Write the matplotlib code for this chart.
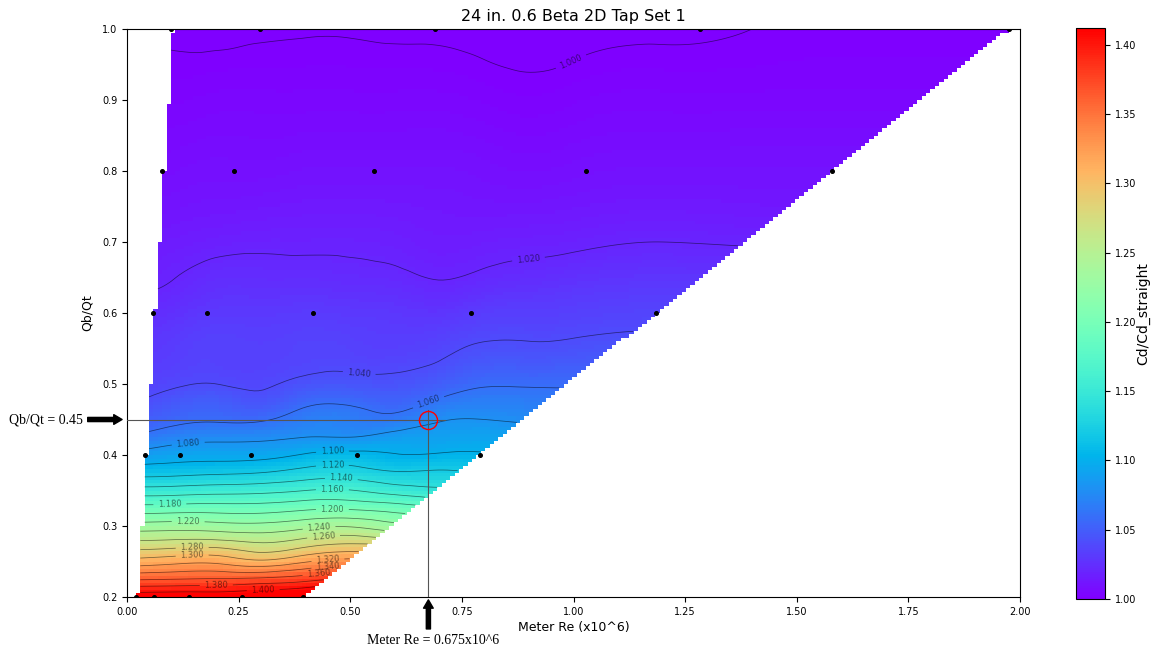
import numpy as np
import matplotlib
matplotlib.use("Agg")
import matplotlib.pyplot as plt
import matplotlib.tri as mtri
from matplotlib.ticker import FormatStrFormatter

# Measurement points: Qb/Qt levels and the meter Re (x10^6) tested at each level
qbqt_levels = [0.2, 0.4, 0.6, 0.8, 1.0]
re_points = [
    [0.020, 0.060, 0.138, 0.257, 0.395],
    [0.040, 0.119, 0.277, 0.514, 0.790],
    [0.059, 0.179, 0.416, 0.771, 1.185],
    [0.079, 0.240, 0.553, 1.028, 1.580],
    [0.099, 0.298, 0.690, 1.283, 1.975],
]

# Cd/Cd_straight surface table (rows: Qb/Qt, columns: meter Re)
re_cols = [0.0, 0.1, 0.2, 0.3, 0.4, 0.5, 0.6, 0.7, 0.8, 0.9, 1.0, 1.2, 1.4, 1.6, 1.8, 2.0]
qb_rows = [0.20, 0.225, 0.25, 0.275, 0.30, 0.325, 0.35, 0.375, 0.40, 0.425,
           0.45, 0.475, 0.50, 0.55, 0.60, 0.65, 0.70, 0.80, 0.90, 1.00]
cd_ratio = [
    [1.415, 1.417, 1.415, 1.420, 1.430, 1.440, 1.440, 1.440, 1.440, 1.440, 1.440, 1.440, 1.440, 1.440, 1.440, 1.440],
    [1.358, 1.360, 1.362, 1.365, 1.373, 1.385, 1.390, 1.390, 1.390, 1.390, 1.390, 1.390, 1.390, 1.390, 1.390, 1.390],
    [1.307, 1.313, 1.315, 1.304, 1.318, 1.328, 1.335, 1.335, 1.335, 1.335, 1.335, 1.335, 1.335, 1.335, 1.335, 1.335],
    [1.267, 1.269, 1.270, 1.262, 1.272, 1.280, 1.278, 1.276, 1.275, 1.275, 1.275, 1.275, 1.275, 1.275, 1.275, 1.275],
    [1.228, 1.230, 1.228, 1.226, 1.234, 1.238, 1.227, 1.225, 1.222, 1.222, 1.222, 1.222, 1.222, 1.222, 1.222, 1.222],
    [1.188, 1.189, 1.190, 1.190, 1.196, 1.197, 1.191, 1.185, 1.182, 1.182, 1.182, 1.182, 1.182, 1.182, 1.182, 1.182],
    [1.148, 1.149, 1.152, 1.154, 1.160, 1.161, 1.151, 1.145, 1.145, 1.145, 1.145, 1.145, 1.145, 1.145, 1.145, 1.145],
    [1.112, 1.114, 1.117, 1.120, 1.128, 1.130, 1.122, 1.123, 1.120, 1.118, 1.118, 1.118, 1.118, 1.118, 1.118, 1.118],
    [1.085, 1.091, 1.093, 1.094, 1.102, 1.106, 1.101, 1.102, 1.102, 1.100, 1.098, 1.098, 1.098, 1.098, 1.098, 1.098],
    [1.060, 1.071, 1.075, 1.076, 1.080, 1.080, 1.087, 1.090, 1.092, 1.090, 1.087, 1.087, 1.087, 1.087, 1.087, 1.087],
    [1.046, 1.055, 1.058, 1.058, 1.068, 1.068, 1.066, 1.078, 1.080, 1.077, 1.075, 1.075, 1.075, 1.075, 1.075, 1.075],
    [1.038, 1.046, 1.049, 1.045, 1.056, 1.057, 1.053, 1.063, 1.069, 1.068, 1.066, 1.065, 1.065, 1.065, 1.065, 1.065],
    [1.035, 1.038, 1.040, 1.038, 1.044, 1.045, 1.044, 1.050, 1.058, 1.058, 1.058, 1.058, 1.058, 1.058, 1.058, 1.058],
    [1.029, 1.032, 1.035, 1.034, 1.036, 1.035, 1.034, 1.037, 1.042, 1.042, 1.043, 1.045, 1.045, 1.045, 1.045, 1.045],
    [1.023, 1.026, 1.030, 1.030, 1.031, 1.030, 1.029, 1.028, 1.032, 1.033, 1.034, 1.036, 1.036, 1.036, 1.036, 1.036],
    [1.017, 1.0195, 1.024, 1.024, 1.024, 1.023, 1.022, 1.0195, 1.022, 1.024, 1.026, 1.028, 1.028, 1.028, 1.028, 1.028],
    [1.013, 1.015, 1.017, 1.018, 1.018, 1.018, 1.017, 1.015, 1.016, 1.017, 1.018, 1.020, 1.019, 1.019, 1.019, 1.019],
    [1.007, 1.008, 1.009, 1.009, 1.010, 1.010, 1.010, 1.010, 1.009, 1.008, 1.009, 1.010, 1.010, 1.010, 1.010, 1.010],
    [1.003, 1.003, 1.004, 1.004, 1.004, 1.004, 1.004, 1.004, 1.003, 1.002, 1.003, 1.004, 1.004, 1.004, 1.004, 1.004],
    [0.9995, 0.999, 0.998, 0.999, 0.9995, 0.9995, 0.999, 0.999, 0.998, 0.997, 0.998, 0.999, 1.000, 1.001, 1.001, 1.001],
]

# Operating point of interest
re_op = 0.675
qbqt_op = 0.45

contour_levels = np.round(np.arange(1.0, 1.401, 0.02), 3)
label_spots = [(0.99, 0.96), (0.90, 0.67), (0.52, 0.515), (0.675, 0.475), (0.137, 0.417),
               (0.46, 0.407), (0.46, 0.386), (0.48, 0.366), (0.46, 0.351), (0.096, 0.33),
               (0.46, 0.323), (0.137, 0.305), (0.43, 0.299), (0.44, 0.287), (0.146, 0.269),
               (0.146, 0.258), (0.45, 0.252), (0.45, 0.241), (0.43, 0.233), (0.20, 0.2155),
               (0.305, 0.21)]

# ---- smooth surface on a fine grid ----
X, Y = np.meshgrid(re_cols, qb_rows)
Z = np.array(cd_ratio)
nx, ny = len(re_cols), len(qb_rows)
triangles = []
for i in range(ny - 1):
    for j in range(nx - 1):
        a = i * nx + j
        triangles += [[a, a + 1, a + nx + 1], [a, a + nx + 1, a + nx]]
tri = mtri.Triangulation(X.ravel(), Y.ravel(), triangles)
interp = mtri.CubicTriInterpolator(tri, Z.ravel(), kind="min_E")

re_lo = min(r[0] for r in re_points)
re_hi = max(r[-1] for r in re_points)
xi = np.linspace(re_lo, re_hi, 200)
yi = np.linspace(qbqt_levels[0], qbqt_levels[-1], 160)
XX, YY = np.meshgrid(xi, yi)
ZZ = interp(XX, YY)

# keep only the region covered by the test matrix
row_min = [r[0] for r in re_points]
row_max = [r[-1] for r in re_points]
lo = np.interp(YY, qbqt_levels, row_min)
hi = np.interp(YY, qbqt_levels, row_max)
outside = (XX < lo - 1e-9) | (XX > hi + 1e-9)
ZZ = np.ma.array(ZZ, mask=np.ma.getmaskarray(ZZ) | outside)

# ---- figure ----
fig = plt.figure(figsize=(11.54, 6.51), dpi=100)
ax = fig.add_axes([127 / 1154, 54 / 651, 893 / 1154, 568 / 651])
cax = fig.add_axes([1076 / 1154, 52 / 651, 29 / 1154, 571 / 651])

im = ax.imshow(ZZ, extent=[xi[0], xi[-1], yi[0], yi[-1]], origin="lower",
               cmap="rainbow", vmin=1.0, vmax=1.412, aspect="auto",
               interpolation="nearest")

cs = ax.contour(XX, YY, ZZ, levels=contour_levels, colors="k",
                linewidths=0.55, alpha=0.5)
ax.clabel(cs, fmt="%1.3f", fontsize=6, inline=True, manual=label_spots)

# test points
for lvl, res in zip(qbqt_levels, re_points):
    ax.plot(res, [lvl] * len(res), "o", color="k", ms=2.6, zorder=5)

# operating point guides
ax.plot([0, re_op + 0.037], [qbqt_op, qbqt_op], color="#555555", lw=0.8, zorder=6)
ax.plot([re_op, re_op], [0.2, qbqt_op + 0.013], color="#555555", lw=0.8, zorder=6)
ax.plot([re_op], [qbqt_op], "o", ms=13, mfc="none", mec="red", mew=1.0, zorder=7)

ax.set_xlim(0, 2.0)
ax.set_ylim(0.2, 1.0)
ax.set_xticks(np.arange(0, 2.01, 0.25))
ax.set_yticks(np.arange(0.2, 1.01, 0.1))
ax.xaxis.set_major_formatter(FormatStrFormatter("%.2f"))
ax.yaxis.set_major_formatter(FormatStrFormatter("%.1f"))
ax.tick_params(labelsize=7, length=3.5, width=0.8)
ax.set_xlabel("Meter Re (x10^6)", fontsize=9, labelpad=3)
ax.set_ylabel("Qb/Qt", fontsize=9, labelpad=6)
ax.set_title("24 in. 0.6 Beta 2D Tap Set 1", fontsize=11.5)

cb = fig.colorbar(im, cax=cax)
cb.set_ticks(np.arange(1.0, 1.401, 0.05))
cb.ax.yaxis.set_major_formatter(FormatStrFormatter("%.2f"))
cb.ax.tick_params(labelsize=7, length=3.5, width=0.8)
cb.set_label("Cd/Cd_straight", fontsize=10, labelpad=0)

# callouts for the operating point
serif = ["Liberation Serif", "DejaVu Serif"]
ax.annotate("", xy=(-0.011, qbqt_op), xytext=(-0.088, qbqt_op),
            arrowprops=dict(facecolor="black", edgecolor="black", width=3,
                            headwidth=7, headlength=6, shrink=0),
            annotation_clip=False)
ax.annotate("", xy=(re_op, 0.196), xytext=(re_op, 0.155),
            arrowprops=dict(facecolor="black", edgecolor="black", width=3,
                            headwidth=7, headlength=6, shrink=0),
            annotation_clip=False)
fig.text(9 / 1154, (651 - 420) / 651, "Qb/Qt = 0.45", family=serif,
         fontsize=10, ha="left", va="center")
fig.text(433 / 1154, (651 - 640) / 651, "Meter Re = 0.675x10^6", family=serif,
         fontsize=10, ha="center", va="center")

fig.savefig("out.png", dpi=100)
